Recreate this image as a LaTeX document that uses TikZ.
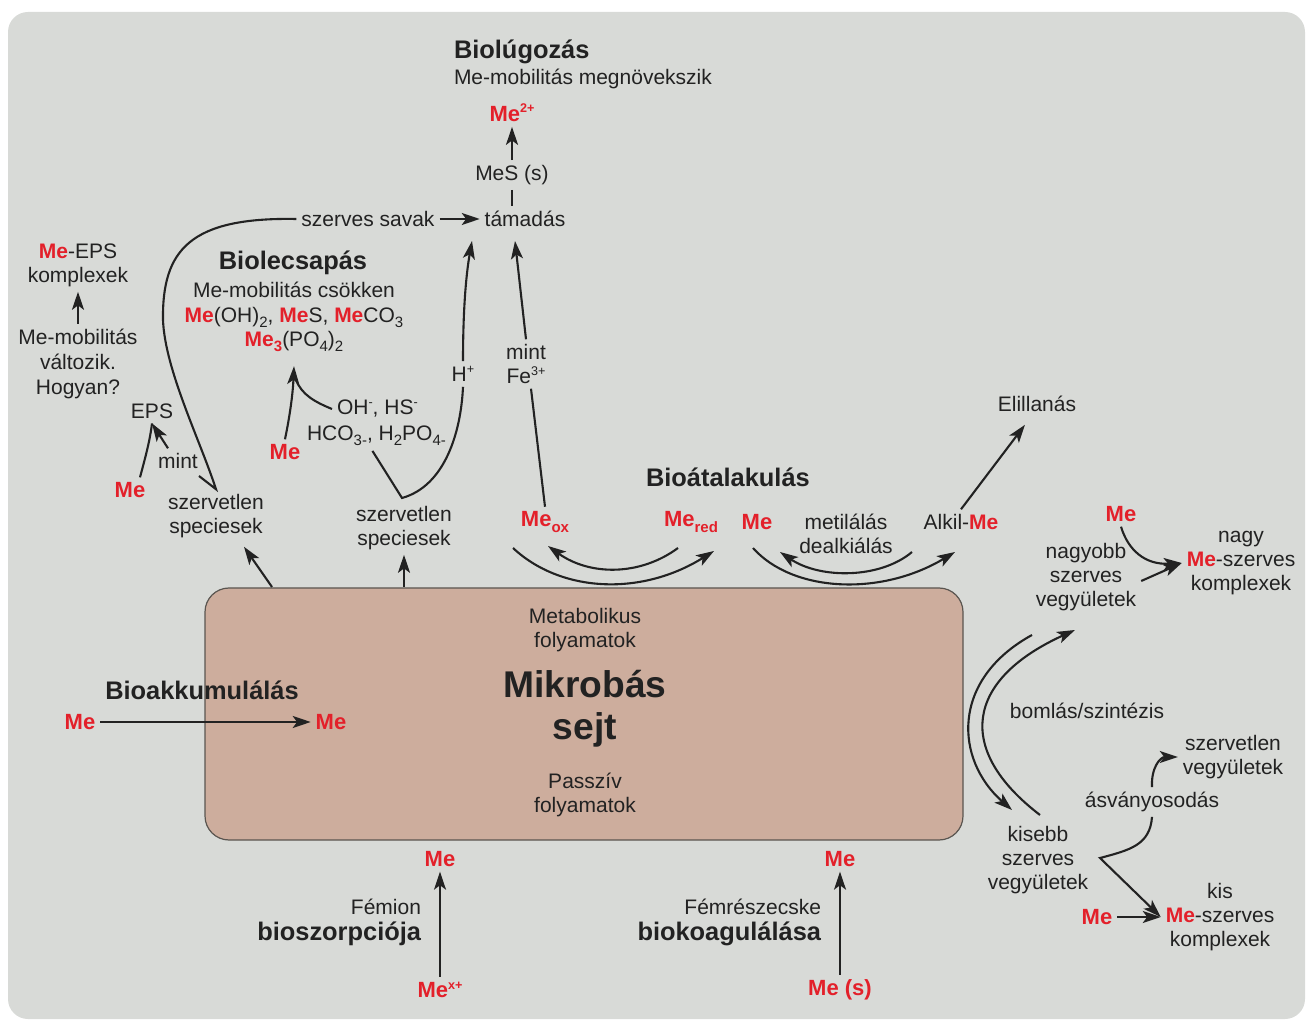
\documentclass[tikz,border=0pt]{standalone}
\usepackage{fontspec}
\setmainfont{Liberation Sans}
\usetikzlibrary{arrows.meta}
\definecolor{bggray}{HTML}{D8DAD7}
\definecolor{cellfill}{HTML}{CDAD9D}
\definecolor{cellline}{HTML}{5A5550}
\definecolor{mered}{HTML}{E3202A}
\definecolor{ink}{HTML}{222222}
\newcommand\RMe{\textcolor{mered}{\bfseries Me}}
\newcommand\sups[1]{\raisebox{0.75ex}{\fontsize{6.3}{7}\selectfont #1}}
\newcommand\subs[1]{\raisebox{-0.45ex}{\fontsize{7.5}{8}\selectfont #1}}
\begin{document}
\begin{tikzpicture}[x=0.5pt,y=-0.5pt,
  txt/.style={font=\fontsize{10.5}{12}\selectfont, text=ink, inner sep=1pt, outer sep=1.5pt, align=center},
  ttl/.style={font=\fontsize{12.7}{15}\selectfont\bfseries, text=ink, inner sep=1pt, outer sep=1.5pt, align=center},
  bigttl/.style={font=\fontsize{18.6}{21}\selectfont\bfseries, text=ink, inner sep=1pt, align=center},
  rme/.style={font=\fontsize{11}{13}\selectfont\bfseries, text=mered, inner sep=1pt, outer sep=1.5pt},
  arr/.style={draw=ink, line width=1.05pt, -{Stealth[length=9pt,width=6pt,inset=2.2pt]}},
  ln/.style={draw=ink, line width=1.05pt}]
\useasboundingbox (0,0) rectangle (1306,1020);
\begin{scope}
\clip (0,0) rectangle (1306,1020);
\fill[bggray, rounded corners=10pt] (8,12) rectangle (1305,1019);
\end{scope}

% cell
\node[draw=cellline, fill=cellfill, line width=0.6pt, rounded corners=12pt,
  minimum width=379pt, minimum height=126pt, inner sep=0pt] (cell) at (584,714) {};
\node[txt] (metab) at (585,630) {Metabolikus\\folyamatok};
\node[bigttl] (mikro) at (585,709) {Mikrobás\\sejt};
\node[txt] (passz) at (585,795) {Passzív\\folyamatok};

% Biolugozas
\node[ttl, anchor=west] (biolug) at (449,52) {Biolúgozás};
\node[txt, anchor=west] (mobmeg) at (449,79) {Me-mobilitás megnövekszik};
\node[rme] (me2) at (512,113) {Me\sups{2+}};
\node[txt] (mes) at (512,175) {MeS (s)};
\node[txt] (tam) at (525,219) {támadás};
\node[txt] (savak) at (368,219) {szerves savak};
\draw[arr] (mes) -- (me2);
\draw[ln] (mes.south) -- (mes.south |- tam.north);
\draw[arr] (savak) -- (tam);

% top left
\node[txt] (meeps) at (78,251) {\RMe-EPS};
\node[txt] (kompl1) at (78,277) {komplexek};
\node[txt, font=\fontsize{10.5}{12.7}\selectfont] (mobvalt) at (78,364) {Me-mobilitás\\változik.\\Hogyan?};
\draw[arr] (mobvalt) -- (kompl1);

% Biolecsapas
\node[ttl] (biolecs) at (293,263) {Biolecsapás};
\node[txt] (mobcs) at (294,290) {Me-mobilitás csökken};
\node[txt] (form1) at (294,317) {\RMe(OH)\subs{2}, \RMe S, \RMe CO\subs{3}};
\node[txt] (form2) at (294,341) {\textcolor{mered}{\bfseries Me\subs{3}}(PO\subs{4})\subs{2}};

\node[txt] (eps) at (152,411) {EPS};
\node[txt] (mint1) at (178,461) {mint};
\node[rme] (meA) at (130,490) {Me};
\node[txt] (sp1) at (216,516) {szervetlen\\speciesek};
\node[txt] (sp2) at (404,528) {szervetlen\\speciesek};
\node[rme] (meP) at (285,452) {Me};
\node[txt, anchor=west] (ohhs) at (332,409) {OH\sups{-}, HS\sups{-}};
\node[txt, anchor=west] (hco) at (302,436) {HCO\subs{3-}, H\subs{2}PO\subs{4-}};
\node[txt] (hplus) at (463,374) {H\sups{+}};
\node[txt] (mintfe) at (526,364) {mint\\Fe\sups{3+}};

% big loop from szervetlen speciesek to szerves savak
\draw[ln] (199,476) -- (sp1.north) .. controls (200,440) and (165,370) .. (163,320)
  .. controls (162,250) and (190,217) .. (savak.west);

% EPS
\draw[ln] ([xshift=5pt]meA.north) .. controls (146,455) and (150,440) .. (eps.south);
\draw[arr] ([xshift=-5pt]mint1.north) -- (eps.south);

% cell to inorganic species
\coordinate (c1) at (272,587);
\coordinate (c2) at (404,587);
\draw[arr] (c1) -- ([xshift=14pt,yshift=-2pt]sp1.south);
\draw[arr] (c2) -- (sp2.south);

% precipitation arrows
\draw[arr] (meP.north) .. controls (291,410) and (293,390) .. ([yshift=-5pt]form2.south);
\draw[ln] (ohhs.west) .. controls (315,402) and (302,395) .. (296,380);

% H+ path
\coordinate (tH) at (472,241);
\draw[ln] ([xshift=-2pt]hco.south) -- (402,498) .. controls (445,486) and (461,432) .. (hplus.south);
\draw[arr] (hplus.north) .. controls (463,310) and (466,275) .. (tH);

% Bioatalakulas
\node[ttl, anchor=west] (bioat) at (641,477) {Bioátalakulás};
\node[rme] (meox) at (545,522) {Me\subs{ox}};
\node[rme] (mered) at (691,522) {Me\subs{red}};
\node[rme] (meB) at (757,522) {Me};
\node[txt] (metil) at (846,534) {metilálás\\dealkiálás};
\node[txt] (alkil) at (961,522) {Alkil-\RMe};
\node[txt] (elill) at (1037,404) {Elillanás};

% Fe3+ path
\coordinate (tM) at (515,241);
\draw[ln] (meox.north) -- ([xshift=2.5pt]mintfe.south);
\draw[arr] (mintfe.north) -- (tM);

\coordinate (o1s) at (513,548); \coordinate (o1e) at (714,551);
\coordinate (i1s) at (678,548); \coordinate (i1e) at (548,546);
\draw[arr] (o1s) .. controls (560,592) and (640,597) .. (o1e);
\draw[arr] (i1s) .. controls (640,576) and (590,576) .. (i1e);
\coordinate (o2s) at (753,548); \coordinate (o2e) at (955,552);
\coordinate (i2s) at (912,552); \coordinate (i2e) at (780,552);
\draw[arr] (o2s) .. controls (792,592) and (880,597) .. (o2e);
\draw[arr] (i2s) .. controls (880,579) and (820,579) .. (i2e);
\draw[arr, shorten >=5pt] (alkil.north) -- ([xshift=-3pt]elill.south);

% right side
\node[rme] (meN) at (1121,514) {Me};
\node[txt] (nagyobb) at (1086,577) {nagyobb\\szerves\\vegyületek};
\node[txt] (nagyMe) at (1241,563) {nagy\\\RMe-szerves\\komplexek};
\draw[arr] (meN.south) .. controls (1128,550) and (1145,565) .. (nagyMe.west);
\draw[arr] ([yshift=-2pt]nagyobb.east) -- (nagyMe.west);

\node[txt] (bomlas) at (1087,711) {bomlás/szintézis};
\node[txt] (szvegy) at (1233,757) {szervetlen\\vegyületek};
\node[txt] (asvany) at (1152,802) {ásványosodás};
\node[txt] (kisebb) at (1038,860) {kisebb\\szerves\\vegyületek};
\node[rme] (meK) at (1097,917) {Me};
\node[txt] (kisMe) at (1220,917) {kis\\\RMe-szerves\\komplexek};

\coordinate (b1s) at (1032,635); \coordinate (b1e) at (1012,810);
\coordinate (b2s) at (1040,815); \coordinate (b2e) at (1075,630);
\draw[arr] (b1s) .. controls (950,680) and (955,760) .. (b1e);
\draw[arr] (b2s) .. controls (955,750) and (965,680) .. (b2e);

\draw[arr] (asvany.north) .. controls (1151,768) and (1160,757) .. (szvegy.west);
\draw[arr] (asvany.south) .. controls (1150,845) and (1130,850) .. (1100,858) -- (kisMe.west);
\draw[arr] (meK) -- (kisMe.west);

% Bioakkumulalas
\node[ttl] (bioakk) at (202,690) {Bioakkumulálás};
\node[rme] (meC1) at (80,722) {Me};
\node[rme] (meC2) at (331,722) {Me};
\draw[arr] (meC1) -- (meC2);

% bottom
\node[rme] (meD1) at (440,859) {Me};
\node[rme] (mex) at (440,990) {Me\sups{x+}};
\node[txt, anchor=east] (femion) at (426,907) {Fémion};
\node[ttl, anchor=east] (bioszorp) at (426,934) {bioszorpciója};
\draw[arr] (mex) -- (meD1);

\node[rme] (meD2) at (840,859) {Me};
\node[rme] (mes2) at (840,990) {Me (s)};
\node[txt, anchor=east] (femr) at (826,907) {Fémrészecske};
\node[ttl, anchor=east] (biokoag) at (826,934) {biokoagulálása};
\draw[arr] (mes2) -- (meD2);
\end{tikzpicture}
\end{document}
